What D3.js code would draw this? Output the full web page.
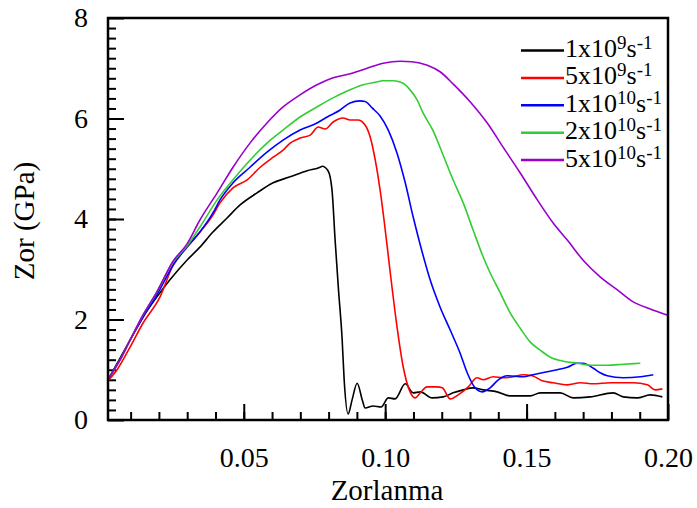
<!DOCTYPE html>
<html>
<head>
<meta charset="utf-8">
<script src="https://cdn.jsdelivr.net/npm/d3@7"></script>
<style>
  body { margin: 0; background: #fff; }
  svg text { font-family: 'Liberation Serif', 'Times New Roman', serif; fill: #000; }
</style>
</head>
<body>
<svg id="chart" width="697" height="508"></svg>
<script>
// strain (x) and stress in GPa (y) for each strain rate
var strainA = [0.002,0.0027,0.0045,0.0098,0.0144,0.0193,0.0239,0.0299,0.0345,0.0391,0.0441,0.0487,0.0547,0.0604,0.0664,0.0724,0.077,0.0777,0.0798,0.0812,0.0823,0.0835,0.0848,0.0855,0.0869,0.0883,0.0901,0.0919,0.0929,0.0957,0.0986,0.1011,0.1035,0.1071,0.1099,0.1124,0.1166,0.1205,0.124,0.1276,0.1311,0.1347,0.1396,0.1442,0.1513,0.1548,0.1619,0.1665,0.1725,0.1806,0.1842,0.1891,0.1937,0.198];
var stressA = [0.80,0.86,1.05,1.59,2.05,2.45,2.79,3.18,3.44,3.74,4.02,4.28,4.52,4.72,4.84,4.96,5.03,5.05,4.96,4.58,3.58,2.59,1.59,0.80,0.12,0.40,0.73,0.40,0.24,0.28,0.26,0.44,0.42,0.72,0.54,0.56,0.44,0.46,0.54,0.60,0.64,0.60,0.56,0.48,0.48,0.54,0.54,0.44,0.46,0.54,0.46,0.44,0.50,0.46];

var strainB = [0.002,0.0052,0.0098,0.0144,0.0204,0.025,0.0299,0.0345,0.0391,0.0416,0.0462,0.0512,0.0558,0.0604,0.0639,0.0664,0.0699,0.0735,0.0763,0.0788,0.0816,0.0851,0.0876,0.0904,0.0929,0.0947,0.0965,0.0982,0.0996,0.1018,0.1042,0.1064,0.1088,0.1106,0.1124,0.1148,0.1184,0.1202,0.123,0.1258,0.1294,0.1325,0.1347,0.1382,0.1417,0.1453,0.1488,0.152,0.1555,0.1594,0.1644,0.169,0.1736,0.1796,0.1877,0.1927,0.1955,0.198];
var stressB = [0.78,1.00,1.45,1.93,2.45,3.08,3.44,3.74,4.08,4.32,4.62,4.78,5.03,5.23,5.37,5.51,5.61,5.67,5.83,5.79,5.93,6.01,5.97,5.97,5.87,5.63,5.17,4.58,3.98,2.93,1.85,1.05,0.56,0.44,0.54,0.66,0.66,0.64,0.42,0.50,0.66,0.84,0.80,0.86,0.84,0.86,0.90,0.88,0.78,0.74,0.70,0.74,0.72,0.74,0.74,0.70,0.60,0.62];

var strainC = [0.002,0.0034,0.0062,0.0098,0.0144,0.0193,0.025,0.0299,0.0345,0.0391,0.0416,0.0462,0.0522,0.0582,0.0639,0.0699,0.0759,0.0795,0.0841,0.0876,0.0911,0.0929,0.0954,0.0982,0.1011,0.1042,0.1071,0.1099,0.1131,0.1159,0.1194,0.123,0.1265,0.129,0.1318,0.1343,0.1371,0.14,0.1431,0.1488,0.1523,0.1573,0.1608,0.1644,0.1679,0.17,0.1736,0.176,0.1785,0.1842,0.1902,0.1948];
var stressC = [0.80,0.94,1.19,1.59,2.05,2.49,3.08,3.44,3.74,4.12,4.38,4.72,5.03,5.33,5.57,5.77,5.91,6.03,6.17,6.31,6.35,6.34,6.21,6.05,5.77,5.31,4.72,4.04,3.34,2.79,2.25,1.79,1.33,0.94,0.64,0.56,0.64,0.80,0.88,0.86,0.90,0.96,1.00,1.05,1.13,1.13,1.03,0.94,0.88,0.84,0.86,0.90];

var strainD = [0.002,0.0062,0.0098,0.0144,0.0193,0.025,0.0299,0.0345,0.0406,0.0462,0.0522,0.0582,0.0639,0.0699,0.0759,0.0816,0.0876,0.0922,0.0972,0.0989,0.1028,0.106,0.1088,0.1113,0.1134,0.117,0.1205,0.124,0.1276,0.1311,0.1347,0.1371,0.1407,0.1442,0.1477,0.1513,0.1548,0.1584,0.163,0.1679,0.1725,0.1785,0.1842,0.1902];
var stressD = [0.80,1.19,1.59,2.09,2.55,3.14,3.46,3.84,4.38,4.78,5.17,5.51,5.77,6.03,6.23,6.41,6.57,6.67,6.73,6.75,6.75,6.71,6.57,6.37,6.11,5.75,5.27,4.78,4.32,3.78,3.24,2.93,2.53,2.13,1.83,1.55,1.39,1.25,1.17,1.13,1.09,1.09,1.11,1.13];

var strainE = [0.002,0.0062,0.0098,0.0144,0.0193,0.025,0.0299,0.0345,0.0406,0.0462,0.0522,0.0582,0.0639,0.0699,0.0759,0.0816,0.0876,0.0936,0.0993,0.1053,0.1095,0.1149,0.1194,0.124,0.1301,0.1361,0.1417,0.1477,0.1538,0.1594,0.1644,0.17,0.176,0.1821,0.1877,0.1937,0.1997];
var stressE = [0.80,1.19,1.59,2.09,2.55,3.16,3.50,3.98,4.52,5.03,5.51,5.91,6.23,6.47,6.67,6.81,6.89,7.00,7.10,7.14,7.13,7.06,6.93,6.69,6.33,5.91,5.43,4.92,4.38,3.92,3.58,3.18,2.85,2.59,2.35,2.21,2.09];

var legendBase = ['1x10', '5x10', '1x10', '2x10', '5x10'];
var legendExp = ['9', '9', '10', '10', '10'];
var colors = ['#000000', '#ff0000', '#0000ff', '#33cc33', '#9900cc'];

var xTicks = [0.05, 0.10, 0.15, 0.20];
var yTicks = [0, 2, 4, 6, 8];

var series = [
  { xs: strainA, ys: stressA },
  { xs: strainB, ys: stressB },
  { xs: strainC, ys: stressC },
  { xs: strainD, ys: stressD },
  { xs: strainE, ys: stressE }
];

const serif = "'Liberation Serif', 'Times New Roman', serif";
const svg = d3.select('#chart');
var margin = { left: 108, right: 668, top: 18, bottom: 420 };

const x = d3.scaleLinear().domain([0.002, 0.2]).range([margin.left, margin.right]);
const y = d3.scaleLinear().domain([0, 8]).range([margin.bottom, margin.top]);

svg.append('clipPath').attr('id', 'plotclip')
  .append('rect')
  .attr('x', margin.left).attr('y', margin.top)
  .attr('width', margin.right - margin.left).attr('height', margin.bottom - margin.top);

// minor ticks
svg.append('g')
  .attr('transform', `translate(0,${margin.bottom})`)
  .call(d3.axisBottom(x).tickValues(d3.range(1, 20).map(d => d / 100)).tickSize(-8).tickFormat(''))
  .call(g => g.select('.domain').remove());
svg.append('g')
  .attr('transform', `translate(${margin.left},0)`)
  .call(d3.axisLeft(y).tickValues(d3.range(1, 40).map(d => d / 5)).tickSize(-8).tickFormat(''))
  .call(g => g.select('.domain').remove());

// major ticks with labels
svg.append('g')
  .attr('transform', `translate(0,${margin.bottom})`)
  .call(d3.axisBottom(x).tickValues(xTicks).tickSize(-16).tickPadding(27).tickFormat(d3.format('.2f')))
  .attr('font-family', serif)
  .attr('font-size', 28)
  .call(g => g.select('.domain').remove());
svg.append('g')
  .attr('transform', `translate(${margin.left},0)`)
  .call(d3.axisLeft(y).tickValues(yTicks).tickSize(-16).tickPadding(20).tickFormat(d3.format('d')))
  .attr('font-family', serif)
  .attr('font-size', 28)
  .call(g => g.select('.domain').remove());

svg.selectAll('.tick line').attr('stroke', '#000').attr('stroke-width', 2);
svg.selectAll('.tick text').attr('fill', '#000');

// curves
const line = d3.line()
  .x(d => x(d[0]))
  .y(d => y(d[1]))
  .curve(d3.curveMonotoneX);

svg.append('g')
  .attr('clip-path', 'url(#plotclip)')
  .selectAll('path')
  .data(series)
  .enter()
  .append('path')
  .attr('d', s => line(s.xs.map((v, i) => [v, s.ys[i]])))
  .attr('fill', 'none')
  .attr('stroke', (s, i) => colors[i])
  .attr('stroke-width', 1.6);

// frame
svg.append('rect')
  .attr('x', margin.left).attr('y', margin.top)
  .attr('width', margin.right - margin.left).attr('height', margin.bottom - margin.top)
  .attr('fill', 'none')
  .attr('stroke', '#000')
  .attr('stroke-width', 2.5);

// axis titles
svg.append('text')
  .attr('x', 387).attr('y', 500)
  .attr('text-anchor', 'middle')
  .style('font-size', '29px')
  .text('Zorlanma');

svg.append('text')
  .attr('transform', 'translate(34,221) rotate(-90)')
  .attr('text-anchor', 'middle')
  .style('font-size', '29px')
  .text('Zor (GPa)');

// legend
const legend = svg.selectAll('.legend')
  .data(legendBase)
  .enter().append('g')
  .attr('class', 'legend')
  .attr('transform', (d, i) => `translate(0,${57 + i * 27.4})`);

legend.append('line')
  .attr('x1', 521).attr('x2', 564)
  .attr('y1', -6.5).attr('y2', -6.5)
  .attr('stroke', (d, i) => colors[i])
  .attr('stroke-width', 2.5);

const lt = legend.append('text')
  .attr('x', 565).attr('y', 0)
  .style('font-size', '26px');
lt.append('tspan').text(d => d);
lt.append('tspan').attr('dy', -8).style('font-size', '19px').text((d, i) => legendExp[i]);
lt.append('tspan').attr('dy', 8).text('s');
lt.append('tspan').attr('dy', -8).style('font-size', '19px').text('-1');
</script>
</body>
</html>
